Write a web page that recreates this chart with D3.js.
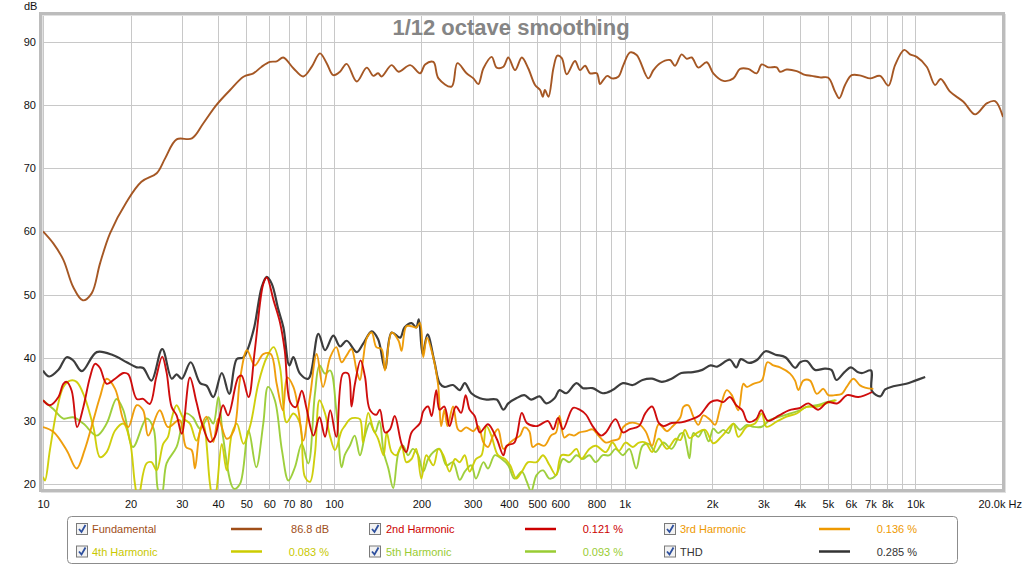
<!DOCTYPE html>
<html><head><meta charset="utf-8">
<script src="https://cdn.jsdelivr.net/npm/d3@7"></script>
<style>
html,body{margin:0;padding:0;background:#fff;}
svg{display:block;font-family:"Liberation Sans",Arial,sans-serif;}
</style></head><body>
<svg id="c" width="1024" height="566"></svg>
<script>
// ---------- DATA ----------
const fundamental = [[10,60],[10.85,58.1],[11.75,55.5],[12.7,51.2],[13.7,49.1],[14.7,50.2],[15.7,54.9],[17,59.7],[19.4,64.7],[21.8,67.85],[24.6,69.2],[26.3,71.55],[28.8,74.55],[32.5,74.7],[35.6,77.1],[39.5,80],[44,82.36],[48.9,84.46],[52.9,85],[56.5,86.05],[60.3,86.8],[63.6,86.9],[67,87.5],[72.6,85.8],[78.5,84.5],[84,86.05],[89.6,88.15],[94.5,86.6],[99.6,84.7],[105,85.25],[110.7,86.5],[119.9,83.7],[129.8,85.9],[136.7,84.6],[142,85],[146,84.5],[158,86.3],[167,85.25],[183,86.3],[198,85],[206,86.4],[220,86.8],[229,84.2],[254,82.9],[266,86.6],[286,85],[302,84.2],[314,83.3],[327,85.8],[349,87.6],[363,85.9],[383,86.05],[398,87.5],[420,85.5],[443,87.5],[466,85.8],[492,83.15],[512,82.35],[523,81.3],[532,82.35],[547,81.3],[569,85.8],[587,87.8],[608,87.4],[632,84.85],[675,86.95],[702,85.5],[731,86.2],[760,85],[802,85],[823,83.3],[845,83.95],[872,84.6],[903,84.2],[951,84.45],[990,86.3],[1044,88.3],[1100,87.9],[1206,84.2],[1256,85.5],[1324,86.6],[1432,87.1],[1490,86.2],[1571,88],[1635,87.3],[1701,87.5],[1793,85.9],[1915,86.75],[2018,85],[2185,83.8],[2366,84.2],[2494,85.7],[2662,85.7],[2845,85],[2960,86.4],[3120,85.95],[3334,85.95],[3420,85.25],[3606,85.6],[3906,85.35],[4170,84.75],[4397,84.6],[4698,84.35],[5017,84.3],[5291,82.1],[5471,81.05],[5726,83.15],[6035,84.7],[6530,84.6],[6978,84.2],[7554,84.6],[8070,83.05],[8510,86.3],[9150,88.7],[9580,88],[10100,87.6],[10930,86.05],[11680,83.15],[12210,84.1],[13150,82.1],[14620,80.5],[16040,78.5],[17580,80.25],[18780,80.6],[20000,78.1]];

const harmonic2 = [[10,33.3],[10.56,32.5],[11.3,33.8],[11.75,35.9],[12.06,36.2],[12.55,34.8],[13.1,29.05],[13.76,32.2],[14.5,36.9],[15.1,39.05],[15.7,38.4],[16.55,35.9],[17.7,36.7],[18.9,37.6],[19.65,37.4],[21,33.5],[22.1,33.5],[23.3,32.7],[24.5,36.9],[25.7,40.2],[26.6,37.7],[27.7,32.2],[28.8,30.9],[30,28],[32,36.9],[33.7,33],[35.1,29.8],[37.5,26.7],[39,27.5],[41.6,32.5],[43.3,30.9],[46.9,36.9],[48.2,37.2],[50.9,33.8],[53.5,41.2],[57.2,51.7],[58.8,52.7],[62.1,49.05],[65.3,45.6],[67.8,41.2],[70.8,33],[74,32.2],[77.6,34.8],[80.4,32.2],[85.1,27.7],[89.3,30.6],[93.3,27.5],[97.2,31.7],[102,27.5],[107.5,37.5],[112,37.5],[115,32.3],[118,35.7],[123.6,39.6],[128,37],[133,31.8],[140,31],[144,31.8],[150,28.2],[156,28.7],[162,30.8],[171,26.4],[177.5,25.1],[185,28.2],[198,29.7],[203,31.55],[211,32.3],[217,30.8],[225,34.9],[231,31.8],[240,32.3],[250,29.2],[263,32.3],[274,31.3],[284,34.1],[293,31.8],[305,30.8],[318,28.2],[339,29.5],[363,27.2],[383,24.6],[393,26.1],[418,26.6],[443,31.3],[461,29.7],[498,29.2],[545,30],[568,28.7],[590,30.5],[614,28.7],[665,32.1],[700,31.8],[737,31],[776,29.2],[830,27.7],[862,28.2],[930,30.3],[987,28.2],[1038,28.7],[1120,29.2],[1180,31.3],[1243,32.3],[1310,29.7],[1360,29.2],[1450,29.7],[1566,29.8],[1675,30.2],[1810,30.9],[1975,33],[2080,33.3],[2185,33],[2300,33.8],[2420,32.5],[2540,31.7],[2650,29.9],[2830,30.3],[2950,31.7],[3110,30.05],[3400,30.9],[3670,31.7],[4015,32.1],[4280,32.8],[4630,31.8],[4990,33],[5390,32.8],[5820,34.1],[6360,33.8],[7100,34.6]];

const harmonic3 = [[10,29.05],[10.85,28.3],[12.06,25.4],[13.05,22.5],[13.9,25.4],[14.9,30.15],[15.7,33.8],[16.55,36.7],[17.7,35.1],[18.9,30.15],[19.65,29.05],[21,32.5],[22.1,31.7],[23,27.7],[25.2,31.7],[26.9,29.05],[29.5,30.15],[31,25.9],[32.45,25.4],[33.3,22.5],[34.7,28.5],[36.5,30.7],[38.5,26.7],[40.1,30.4],[42.8,27.2],[45.3,28.5],[47.6,36.7],[50.3,41.2],[53.5,38.8],[57.2,40.6],[60.7,40.6],[63.6,35.9],[66.8,31.7],[69.1,36.9],[72.6,35.4],[75.6,31.7],[78.5,26.9],[82.8,33.8],[87.3,40.6],[91.8,35.4],[97.2,40.1],[102,41.7],[106.4,39.3],[110.7,40.4],[115,41.4],[120,37.8],[123,36.5],[126,39.6],[130,43.2],[135,44],[140,41.7],[146,41.4],[150,38],[158,44],[167,42.7],[171,41.1],[177.5,45],[185,45],[192,44.8],[198,45.5],[203,40.1],[209,43.2],[217,41.1],[228,36],[234,29.2],[240,31.8],[246,29.2],[257,32.3],[267,28.7],[274,28.4],[285,29],[302,28.4],[314,29.2],[327,26.6],[339,25.9],[353,27.7],[367,28.7],[383,25.6],[404,26.6],[420,27.2],[437,27.7],[452,29],[470,28.4],[483,25.9],[503,26.4],[530,26.1],[558,27.7],[581,28.2],[597,30.8],[620,27.4],[645,27.9],[670,27.7],[700,28.2],[737,28.4],[776,28.7],[813,27.7],[862,26.6],[908,26.9],[956,27.2],[987,29],[1038,29.7],[1120,29.5],[1180,28.4],[1243,26.1],[1310,29.5],[1398,28.4],[1450,29],[1555,30.6],[1592,32.25],[1656,32.5],[1723,30.7],[1793,29.4],[1865,30.9],[1967,30.2],[2046,29.4],[2129,32],[2244,34.9],[2336,34.1],[2460,31.7],[2560,35.9],[2630,35.4],[2771,35.9],[2960,36.4],[3096,39.3],[3246,38.8],[3422,38.5],[3706,37.5],[3855,36.4],[3958,34.9],[4117,36.4],[4341,36.4],[4577,34.3],[4823,35.1],[5017,34.1],[5290,34.1],[5580,34.3],[5803,35.4],[6117,36.7],[6450,35.65],[6710,35.3],[7165,35.1]];

const harmonic4 = [[10,21.2],[10.16,20.6],[10.56,25.4],[11.15,31.7],[11.75,35.4],[12.4,36.4],[13.05,36.2],[13.9,33.8],[14.9,29.05],[15.7,24.3],[16.55,25.1],[17.7,28.5],[18.9,29.6],[19.9,26.9],[20.7,20.1],[21.3,17],[21.6,19.05],[22.7,23.3],[23.6,23.5],[24.6,22.2],[25.9,26.4],[26.9,27.5],[27.7,30.4],[28.8,32.5],[30.4,30.4],[32,29.6],[33.7,26.9],[35.5,29.6],[37.5,20.1],[38.5,17],[39.5,19.05],[41.2,26.4],[42.8,22.2],[44.6,28],[46.4,29.6],[48.9,26.4],[51.6,29.3],[55,35.9],[58.8,40.1],[62.1,41.7],[65.3,38.5],[68.8,29.8],[72.6,31.2],[76.5,29.6],[79.5,21.2],[82.8,20.4],[86.1,24.8],[89.3,33.3],[93.3,31.2],[97.2,27.5],[101,25.4],[106.4,28.5],[109,29.2],[113.5,30.3],[118,30.5],[123,30.3],[126,26.6],[131.3,31.3],[136.7,28.7],[142,27.2],[148.3,24.6],[152,28.2],[158,25.1],[164,24.6],[171,26.1],[177.5,23.5],[185,24],[192,25.6],[200,20.9],[208,24.6],[220,23],[229,25.6],[238,24.6],[250,22],[261,24],[271,23.5],[282,24.6],[293,22],[308,24],[322,24.6],[335,29.2],[348,27.7],[367,24.6],[388,24],[404,23],[424,20.9],[443,22],[466,23.5],[498,23.5],[524,24.6],[552,23],[581,21.45],[606,24.6],[645,24.6],[683,25.6],[710,24],[756,25.6],[796,26.1],[862,25.1],[908,26.6],[956,25.3],[1007,26.6],[1067,25.9],[1120,26.6],[1180,26.6],[1243,25.1],[1310,27.2],[1398,25.6],[1498,27.2],[1555,27],[1612,28.6],[1675,27.3],[1770,28.1],[1890,28.6],[2018,26.5],[2148,27.5],[2300,29.1],[2366,29.6],[2460,27.5],[2630,29.1],[2806,29.6],[2960,31.2],[3075,29.1],[3330,29.9],[3606,30.7],[3906,31.2],[4220,32.25],[4577,32.25],[4950,32.8],[5350,33.3]];

const harmonic5 = [[10,33.3],[10.85,31.9],[11.75,30.4],[12.7,30.6],[13.76,29.6],[15.3,27.7],[16.55,29.6],[17.9,33.5],[18.9,31.7],[20.4,25.9],[22.7,30.4],[24,28.8],[24.9,19.05],[25.6,18.5],[26.6,23.3],[28.8,25.9],[31,31.2],[32.7,30.6],[34.7,28.8],[37,30.6],[38.5,29.6],[40.1,33.8],[41.6,27.5],[45.3,19.3],[47.6,20.1],[50.9,28.5],[54.1,22.7],[57.2,29.6],[59.4,35.4],[62.7,33.3],[66.3,25.4],[69.8,20.6],[73.5,22.7],[77.6,26.4],[81.7,23.3],[86.1,34.3],[89.3,38.8],[93.3,37.5],[97.2,38],[102,31.7],[106.4,22.7],[109,24.6],[113.5,26.1],[118,27.7],[123,24.6],[128,27.7],[133,29.7],[138.5,28.2],[143.5,30],[148.3,25.1],[154,22.5],[160,19.4],[167,25.1],[173,26.1],[180,24.6],[187,25.6],[195,24.6],[203,22],[211,24],[220,25.1],[231,25.6],[244,23],[257,23.5],[271,20.7],[282,22],[297,23],[308,20.9],[327,23.5],[339,22.5],[358,24.6],[378,24],[398,23],[418,20.9],[443,22],[461,20.4],[477,18.9],[498,21.45],[524,22.2],[552,20.9],[581,21.45],[614,24],[645,23.5],[683,24.6],[719,24],[756,24.6],[796,23.5],[841,24.6],[887,24.6],[930,25.6],[987,24.6],[1038,25.6],[1096,22.5],[1152,26.1],[1212,26.4],[1277,25.1],[1360,26.6],[1450,25.6],[1555,28],[1592,28.1],[1635,26.1],[1670,24.1],[1723,28.1],[1793,27.5],[1865,28.6],[1945,26.8],[2018,28.8],[2098,28.1],[2185,28.6],[2275,28.1],[2366,29.6],[2494,28.6],[2630,29.4],[2771,29.1],[2960,29.1],[3160,30.2],[3422,30.7],[3706,31.2],[4000,31.7],[4220,32.25],[4577,32.5],[4950,33],[5290,33.3]];

const thd = [[10,38],[10.5,37.05],[11.3,38.1],[12.06,40.1],[12.7,39.6],[13.6,37.9],[15.3,40.9],[17.45,40.4],[19.4,39.3],[21,38.5],[22.1,38.4],[23.6,36.4],[25.7,41.4],[27.7,36.7],[28.8,37.4],[30,36.7],[32.2,39.3],[34.7,36],[36.5,35.6],[38.5,33.8],[41.2,37.6],[43.7,34.3],[46.4,39.8],[48.9,40.1],[52.9,44.3],[56.5,51.2],[58.8,52.8],[61.2,51.7],[64.4,47.7],[67.1,44.8],[70.3,38.8],[72.6,40.1],[76.5,37.5],[81.7,36.7],[88.5,43.8],[93.3,41.2],[99.6,43.5],[105,41.8],[110.7,42.7],[120,40.9],[126,42.2],[135,44.2],[142,42.95],[150,38.3],[158,44],[169,43.2],[175,44.8],[185,45.5],[192,44.8],[196,46.1],[202,40.6],[210,43.7],[222,39.3],[231,36],[240,35.4],[257,35.7],[271,34.9],[282,36],[297,34.4],[318,33.6],[335,33.4],[363,33.4],[383,31.8],[398,32.8],[424,33.6],[452,34.1],[477,33.4],[510,33.9],[537,32.8],[574,33.6],[597,34.9],[630,34.4],[683,36],[719,35.2],[776,35.2],[841,34.4],[908,34.9],[987,36],[1067,35.7],[1152,36.5],[1243,36.7],[1342,36.2],[1450,36.7],[1566,37.6],[1718,37.75],[1850,38.1],[1975,38.8],[2080,38.6],[2300,39.7],[2420,38.5],[2510,39.8],[2680,39.2],[2860,39.7],[3050,41.05],[3300,40.5],[3570,40.1],[3860,38.4],[4015,39.3],[4230,39.5],[4510,38.1],[4880,38.3],[5140,38.1],[5350,36.5],[5700,37.75],[6000,38.5],[6320,37.75],[6570,37.6],[7040,38],[7080,34.8],[7570,33.9],[7870,35],[8390,35.5],[9300,35.9],[9980,36.4],[10800,36.96]];

const xTickValues = [10,20,30,40,50,60,70,80,100,200,300,400,500,600,800,1000,2000,3000,4000,5000,6000,7000,8000,10000,20000];
const xTickLabels = ["10","20","30","40","50","60","70","80","100","200","300","400","500","600","800","1k","2k","3k","4k","5k","6k","7k","8k","10k","20.0k Hz"];
const xGridValues = [10,20,30,40,50,60,70,80,90,100,200,300,400,500,600,700,800,900,1000,2000,3000,4000,5000,6000,7000,8000,9000,10000,20000];
const yTickValues = [20,30,40,50,60,70,80,90];
const yTickLabels = ["20","30","40","50","60","70","80","90"];

const legendNames = ["Fundamental","2nd Harmonic","3rd Harmonic","4th Harmonic","5th Harmonic","THD"];
const legendValues = ["86.8 dB","0.121 %","0.136 %","0.083 %","0.093 %","0.285 %"];
const seriesColors = ["#a04e18","#cc0000","#ee9900","#cccc00","#99cc33","#333333"];
const legendTextColors = ["#a04e18","#cc0000","#ee9900","#c8c800","#99cc33","#333333"];
const seriesData = [fundamental,harmonic2,harmonic3,harmonic4,harmonic5,thd];

// ---------- CHART ----------
const svg = d3.select("#c");
const L = 43, R = 1003, T = 14, B = 490;
const x = d3.scaleLog().domain([10,20000]).range([L,R]);
const y = d3.scaleLinear().domain([20,90]).range([484.3,41.7]);

// grid
const gGrid = svg.append("g");
gGrid.selectAll("line.v").data(xGridValues).join("line")
  .attr("x1",d=>Math.round(x(d))+0.5).attr("x2",d=>Math.round(x(d))+0.5)
  .attr("y1",T).attr("y2",B).attr("stroke","#c8c8c8").attr("stroke-width",1);
gGrid.selectAll("line.h").data(yTickValues).join("line")
  .attr("y1",d=>Math.round(y(d))+0.5).attr("y2",d=>Math.round(y(d))+0.5)
  .attr("x1",L).attr("x2",R).attr("stroke","#c8c8c8").attr("stroke-width",1);

// frame
svg.append("rect").attr("x",42).attr("y",15).attr("width",963).attr("height",477)
  .attr("fill","none").attr("stroke","#e0e0e0").attr("stroke-width",2);
svg.append("rect").attr("x",40.5).attr("y",13.5).attr("width",963).attr("height",477)
  .attr("fill","none").attr("stroke","#bcbcbc").attr("stroke-width",3);

// title
svg.append("text").attr("x",511).attr("y",35).attr("text-anchor","middle")
  .attr("font-size","22px").attr("font-weight","bold").attr("fill","#858585")
  .text("1/12 octave smoothing");

// axes (labels only)
const xAxis = d3.axisBottom(x).tickValues(xTickValues).tickSize(0).tickPadding(0)
  .tickFormat((d,i)=>xTickLabels[i]);
const gx = svg.append("g").attr("transform","translate(0,500)").call(xAxis);
gx.select(".domain").remove();
gx.selectAll("text").attr("font-size","11px").attr("fill","#111").attr("font-family","Liberation Sans, Arial, sans-serif").attr("dy","0.71em");
gx.selectAll(".tick").filter(d=>d===20000).select("text").attr("text-anchor","start").attr("dx","-25");

const yAxis = d3.axisLeft(y).tickValues(yTickValues).tickSize(0).tickPadding(0)
  .tickFormat((d,i)=>yTickLabels[i]);
const gy = svg.append("g").attr("transform","translate(36,0)").call(yAxis);
gy.select(".domain").remove();
gy.selectAll("text").attr("font-size","11px").attr("fill","#111").attr("font-family","Liberation Sans, Arial, sans-serif");

svg.append("text").attr("x",24).attr("y",10).attr("font-size","11px").attr("fill","#111").text("dB");

// clip
svg.append("clipPath").attr("id","clip").append("rect").attr("x",L).attr("y",T+2).attr("width",R-L).attr("height",B-T-2);

const line = d3.line().x(d=>x(d[0])).y(d=>y(d[1])).curve(d3.curveCatmullRom.alpha(0.5));
const gLines = svg.append("g").attr("clip-path","url(#clip)");
const drawOrder = [5,4,3,2,1,0];
drawOrder.forEach(i=>{
  gLines.append("path").datum(seriesData[i]).attr("d",line)
    .attr("fill","none").attr("stroke",seriesColors[i])
    .attr("stroke-width", i===5 ? 2.2 : 1.9).attr("stroke-linejoin","round").attr("stroke-opacity",0.95);
});

// legend
const lg = svg.append("g");
lg.append("rect").attr("x",67.5).attr("y",516.5).attr("width",890).attr("height",47).attr("rx",4)
  .attr("fill","#fff").attr("stroke","#8c8c8c").attr("stroke-width",1);
const colX = [76,369,664];
const textX = [92,386,680];
const lineX = [[231,262],[525,556],[819,850]];
const valX = [329,623,917];
const rowY = [529,551.5];
legendNames.forEach((name,i)=>{
  const c = i%3, r = Math.floor(i/3);
  const cy = rowY[r];
  const g = lg.append("g");
  g.append("rect").attr("x",colX[c]+0.5).attr("y",cy-5.5).attr("width",11).attr("height",11)
    .attr("fill","#f2f2f2").attr("stroke","#7a7a7a").attr("stroke-width",1);
  g.append("path").attr("d",`M${colX[c]+3},${cy} L${colX[c]+5.5},${cy+3} L${colX[c]+9.5},${cy-4}`)
    .attr("fill","none").attr("stroke","#2d4f9e").attr("stroke-width",1.8);
  g.append("text").attr("x",textX[c]).attr("y",cy+4).attr("font-size","11px")
    .attr("fill",legendTextColors[i]).text(name);
  g.append("line").attr("x1",lineX[c][0]).attr("x2",lineX[c][1]).attr("y1",cy).attr("y2",cy)
    .attr("stroke",seriesColors[i]).attr("stroke-width",2.5);
  g.append("text").attr("x",valX[c]).attr("y",cy+4).attr("font-size","11px").attr("text-anchor","end")
    .attr("fill",legendTextColors[i]).text(legendValues[i]);
});
</script>
</body></html>
